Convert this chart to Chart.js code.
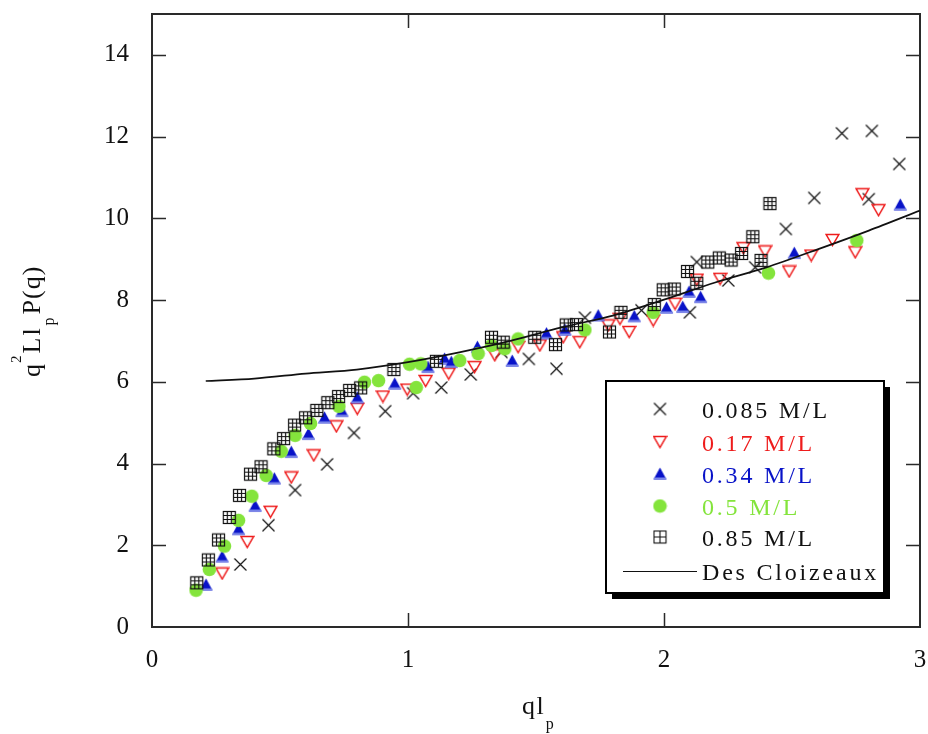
<!DOCTYPE html>
<html><head><meta charset="utf-8">
<script src="https://cdn.jsdelivr.net/npm/chart.js@4.4.1/dist/chart.umd.min.js"></script>
<style>html,body{margin:0;padding:0;background:#fff;overflow:hidden}#wrap{width:928px;height:734px}</style>
</head><body><div id="wrap"><canvas id="c" width="928" height="734"></canvas></div>
<script>
// ---- data ----
const xTicks = [0, 1, 2, 3];
const yTicks = [0, 2, 4, 6, 8, 10, 12, 14];
const seriesNames = ["0.085 M/L", "0.17 M/L", "0.34 M/L", "0.5 M/L", "0.85 M/L", "Des Cloizeaux"];

const c085x = [0.345,0.455,0.559,0.684,0.789,0.911,1.02,1.13,1.245,1.365,1.472,1.58,1.691,1.912,2.101,2.128,2.251,2.356,2.476,2.587,2.695,2.80,2.812,2.919];
const c085y = [1.53,2.49,3.35,3.98,4.75,5.28,5.72,5.86,6.18,6.73,6.56,6.32,7.57,7.75,7.70,8.93,8.48,8.80,9.74,10.50,12.08,10.47,12.14,11.33];

const c017x = [0.274,0.372,0.463,0.544,0.632,0.72,0.802,0.902,0.997,1.069,1.159,1.26,1.339,1.43,1.515,1.606,1.671,1.782,1.828,1.864,1.958,2.043,2.128,2.219,2.31,2.395,2.489,2.575,2.658,2.747,2.775,2.838];
const c017y = [1.31,2.08,2.82,3.66,4.20,4.91,5.34,5.64,5.81,6.02,6.20,6.36,6.65,6.85,6.89,7.09,6.97,7.38,7.54,7.22,7.50,7.91,8.50,8.52,9.27,9.19,8.70,9.09,9.47,9.17,10.59,10.20];

const c034x = [0.211,0.274,0.338,0.403,0.478,0.544,0.611,0.674,0.742,0.802,0.948,1.078,1.143,1.169,1.271,1.407,1.541,1.613,1.743,1.884,2.01,2.073,2.098,2.143,2.509,2.923];
const c034y = [1.03,1.72,2.39,2.96,3.63,4.28,4.72,5.12,5.28,5.61,5.95,6.36,6.56,6.48,6.85,6.51,7.18,7.27,7.62,7.60,7.81,7.83,8.20,8.07,9.15,10.33];

const c05x = [0.172,0.224,0.283,0.338,0.39,0.446,0.505,0.559,0.619,0.73,0.83,0.885,1.006,1.032,1.05,1.202,1.274,1.326,1.378,1.43,1.691,1.958,2.408,2.753];
const c05y = [0.90,1.41,1.98,2.61,3.20,3.71,4.30,4.69,4.98,5.40,5.99,6.03,6.43,5.86,6.44,6.52,6.69,6.89,6.81,7.05,7.27,7.70,8.66,9.46];

const c085bx = [0.175,0.22,0.26,0.302,0.342,0.385,0.426,0.476,0.514,0.557,0.60,0.644,0.687,0.729,0.772,0.815,0.945,1.111,1.326,1.372,1.495,1.576,1.618,1.658,1.787,1.832,1.962,1.997,2.04,2.092,2.128,2.171,2.216,2.262,2.303,2.347,2.379,2.414];
const c085by = [1.08,1.64,2.13,2.68,3.22,3.74,3.92,4.36,4.61,4.94,5.12,5.30,5.49,5.64,5.79,5.85,6.30,6.50,7.09,6.97,7.09,6.91,7.39,7.40,7.22,7.70,7.89,8.25,8.27,8.70,8.41,8.93,9.03,8.98,9.14,9.55,8.97,10.36];

const dcX = [0.21,0.4,0.6,0.8,1.0,1.2,1.4,1.6,1.8,2.0,2.2,2.4,2.6,2.8,3.0];
const dcY = [6.02,6.08,6.20,6.30,6.48,6.72,7.00,7.33,7.62,8.01,8.43,8.80,9.24,9.70,10.19];

// ---- helpers ----
const pts = (xs, ys) => xs.map((x, i) => ({x: x, y: ys[i]}));
function mk(w, h, fn) { const c = document.createElement('canvas'); c.width = w; c.height = h; const g = c.getContext('2d'); fn(g, w, h); return c; }

const RED = '#ee1c1c', BLUE = '#0812c8', GREEN = '#84e43c';
const mCross = mk(15, 15, g => { g.strokeStyle = '#111'; g.lineWidth = 1.2; g.beginPath(); g.moveTo(1.5,1.5); g.lineTo(13.5,13.5); g.moveTo(13.5,1.5); g.lineTo(1.5,13.5); g.stroke(); });
const mDown = mk(15, 14, g => { g.strokeStyle = RED; g.lineWidth = 1.5; g.beginPath(); g.moveTo(1.2,1.5); g.lineTo(13.8,1.5); g.lineTo(7.5,12.5); g.closePath(); g.stroke(); });
const mUp = mk(15, 14, g => { g.fillStyle = BLUE; g.beginPath(); g.moveTo(7.5,0.5); g.lineTo(14,12.5); g.lineTo(1,12.5); g.closePath(); g.fill(); g.fillStyle = '#7a86ea'; g.fillRect(1.5,10.5,12,2); });
const mDot = mk(15, 15, g => { g.fillStyle = GREEN; g.beginPath(); g.arc(7.5,7.5,6.8,0,Math.PI*2); g.fill(); });
const mGrid = mk(15, 15, g => { g.strokeStyle = '#111'; g.lineWidth = 1.2; g.strokeRect(1.5,1.5,12,12); g.beginPath(); g.moveTo(5.5,1.5); g.lineTo(5.5,13.5); g.moveTo(9.5,1.5); g.lineTo(9.5,13.5); g.moveTo(1.5,5.5); g.lineTo(13.5,5.5); g.moveTo(1.5,9.5); g.lineTo(13.5,9.5); g.stroke(); });
const lGrid = mk(15, 15, g => { g.strokeStyle = '#111'; g.lineWidth = 1.1; g.strokeRect(1.5,1.5,12,12); g.beginPath(); g.moveTo(7.5,1.5); g.lineTo(7.5,13.5); g.moveTo(1.5,7.5); g.lineTo(13.5,7.5); g.stroke(); });

const FONT = '"Liberation Serif", "Times New Roman", serif';

function drawSpaced(ctx, text, x, y, sp) {
  let cx = x;
  for (const ch of text) { ctx.fillText(ch, cx, y); cx += ctx.measureText(ch).width + sp; }
  return cx;
}

const frame = {
  id: 'frame',
  beforeDatasetsDraw(chart) {
    const ctx = chart.ctx, a = chart.chartArea, xs = chart.scales.x, ys = chart.scales.y;
    ctx.save();
    ctx.strokeStyle = '#2a2a2a'; ctx.lineWidth = 2;
    ctx.strokeRect(a.left, a.top, a.right - a.left, a.bottom - a.top);
    ctx.lineWidth = 1.5; ctx.beginPath();
    yTicks.forEach(v => { const p = Math.round(ys.getPixelForValue(v)) + 0.5; if (v > 0) { ctx.moveTo(a.left, p); ctx.lineTo(a.left + 14, p); ctx.moveTo(a.right, p); ctx.lineTo(a.right - 14, p); } });
    xTicks.forEach(v => { const p = Math.round(xs.getPixelForValue(v)) + 0.5; if (v > 0 && v < 3) { ctx.moveTo(p, a.bottom); ctx.lineTo(p, a.bottom - 14); ctx.moveTo(p, a.top); ctx.lineTo(p, a.top + 14); } });
    ctx.stroke();
    ctx.restore();
  },
  afterDraw(chart) {
    const ctx = chart.ctx;
    ctx.save();
    ctx.fillStyle = '#111'; ctx.textBaseline = 'alphabetic'; ctx.textAlign = 'left';
    // x title: q l_p
    ctx.font = '26px ' + FONT;
    let xe = drawSpaced(ctx, 'ql', 522, 714, 1.5);
    ctx.font = '16px ' + FONT;
    ctx.fillText('p', xe + 0.5, 729);
    // y title rotated: q^2 L l_p P(q)
    ctx.translate(40, 377); ctx.rotate(-Math.PI / 2);
    ctx.font = '26px ' + FONT;
    let u = drawSpaced(ctx, 'q', 0, 0, 2);
    ctx.font = '15px ' + FONT;
    u = drawSpaced(ctx, '2', u - 1, -19, 2);
    ctx.font = '26px ' + FONT;
    u = drawSpaced(ctx, 'Ll', u, 0, 2);
    ctx.font = '16px ' + FONT;
    u = drawSpaced(ctx, 'p', u + 1, 14, 3);
    ctx.font = '26px ' + FONT;
    drawSpaced(ctx, 'P(q)', u, 0, 1);
    ctx.restore();

    // legend
    const L = 606, T = 381, R = 884, B = 593;
    ctx.save();
    ctx.fillStyle = '#000'; ctx.fillRect(L + 6, T + 6, R - L, B - T);
    ctx.fillStyle = '#fff'; ctx.fillRect(L, T, R - L, B - T);
    ctx.strokeStyle = '#000'; ctx.lineWidth = 2; ctx.strokeRect(L, T, R - L, B - T);
    const rows = [409, 442, 474, 506, 537, 571];
    ctx.font = '24px ' + FONT; ctx.textBaseline = 'alphabetic';
    chart.data.datasets.forEach((ds, i) => {
      const yc = rows[i];
      if (ds.legendMarker) { const m = ds.legendMarker; ctx.drawImage(m, 660 - m.width / 2, yc - m.height / 2); }
      else { ctx.strokeStyle = '#111'; ctx.lineWidth = 1.2; ctx.beginPath(); ctx.moveTo(623, yc + 0.5); ctx.lineTo(697, yc + 0.5); ctx.stroke(); }
      ctx.fillStyle = ds.legendText;
      drawSpaced(ctx, ds.label, 702, yc + 9, 2.8);
    });
    ctx.restore();
  }
};

const fixTicks = arr => s => { s.ticks = arr.map(v => ({value: v})); };
const tickFont = {family: FONT, size: 25};

new Chart(document.getElementById('c'), {
  type: 'scatter',
  data: {
    datasets: [
      {label: seriesNames[0], data: pts(c085x, c085y), pointStyle: mCross, legendMarker: mCross, legendText: '#111', order: 6, pointRadius: 7},
      {label: seriesNames[1], data: pts(c017x, c017y), pointStyle: mDown, legendMarker: mDown, legendText: RED, order: 5, pointRadius: 7},
      {label: seriesNames[2], data: pts(c034x, c034y), pointStyle: mUp, legendMarker: mUp, legendText: BLUE, order: 4, pointRadius: 7},
      {label: seriesNames[3], data: pts(c05x, c05y), pointStyle: mDot, legendMarker: mDot, legendText: GREEN, order: 3, pointRadius: 7},
      {label: seriesNames[4], data: pts(c085bx, c085by), pointStyle: mGrid, legendMarker: lGrid, legendText: '#111', order: 2, pointRadius: 7},
      {type: 'line', label: seriesNames[5], data: pts(dcX, dcY), showLine: true, borderColor: '#111', borderWidth: 1.7, pointRadius: 0, tension: 0.3, fill: false, legendMarker: null, legendText: '#111', order: 1}
    ]
  },
  options: {
    responsive: false, animation: false, devicePixelRatio: 1,
    layout: {autoPadding: false, padding: {left: 0, right: 8, top: 14, bottom: 0}},
    plugins: {legend: {display: false}, tooltip: {enabled: false}},
    scales: {
      x: {type: 'linear', min: 0, max: 3, afterBuildTicks: fixTicks(xTicks),
          afterFit: s => { s.height = 107; s.paddingLeft = 0; s.paddingRight = 0; s.paddingTop = 0; s.paddingBottom = 0; },
          grid: {display: false, drawTicks: false}, border: {display: false},
          ticks: {font: tickFont, color: '#111', padding: 18, maxRotation: 0}},
      y: {type: 'linear', min: 0, max: 15, afterBuildTicks: fixTicks(yTicks),
          afterFit: s => { s.width = 152; s.paddingLeft = 0; s.paddingRight = 0; s.paddingTop = 0; s.paddingBottom = 0; },
          grid: {display: false, drawTicks: false}, border: {display: false},
          ticks: {font: tickFont, color: '#111', padding: 23}}
    }
  },
  plugins: [frame]
});
</script></body></html>
